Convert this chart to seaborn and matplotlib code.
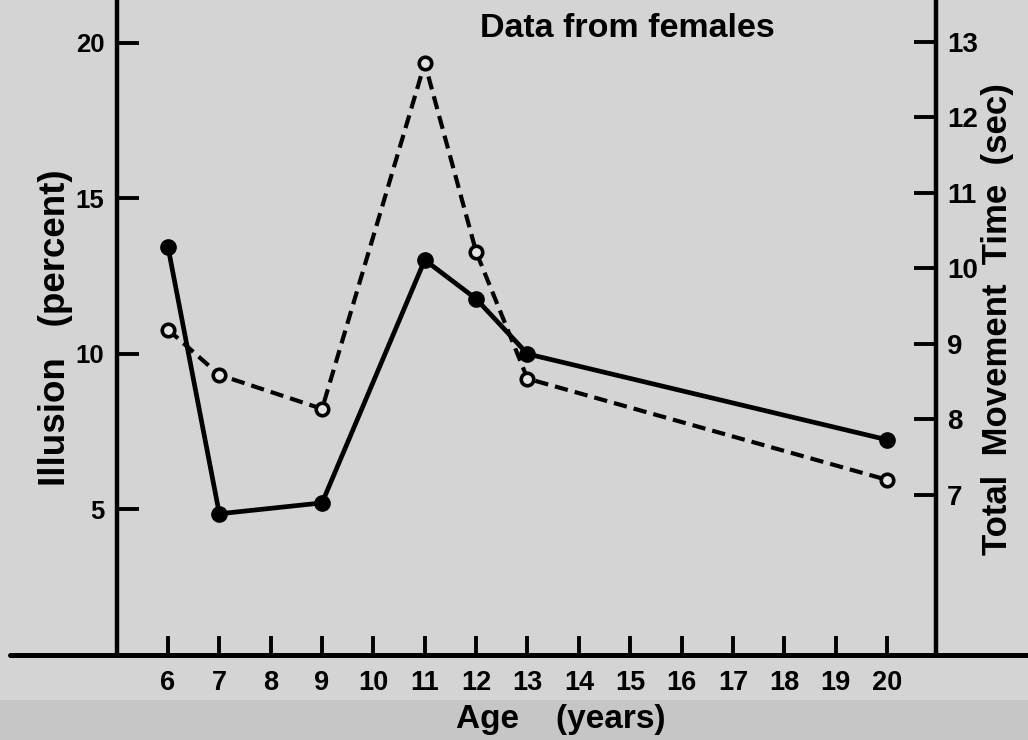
import matplotlib
matplotlib.use('Agg')
import matplotlib.pyplot as plt
import seaborn as sns
from matplotlib.lines import Line2D
from matplotlib.patches import Rectangle

# ---- data ----
ages = [6, 7, 9, 11, 12, 13, 20]
illusion = [13.44, 4.86, 5.21, 13.02, 11.77, 10.0, 7.24]          # left axis (percent)
movement_time = [9.19, 8.59, 8.14, 12.72, 10.22, 8.54, 7.20]      # right axis (sec)
x_ticks = list(range(6, 21))
left_ticks = [5, 10, 15, 20]
right_ticks = [7, 8, 9, 10, 11, 12, 13]

title = "Data from females"
xlabel = "Age    (years)"
left_label = "Illusion   (percent)"
right_label = "Total  Movement  Time  (sec)"

sns.set_theme(style='white')
plt.rcParams['font.family'] = ['Liberation Sans', 'DejaVu Sans']
plt.rcParams['font.weight'] = 'bold'

bg = '#d4d4d4'
fig = plt.figure(figsize=(10.28, 7.40), dpi=100, facecolor=bg)
# slightly darker strip at the bottom of the scanned page
fig.patches.append(Rectangle((0, 0), 1, 0.054, transform=fig.transFigure,
                             facecolor='#c6c6c6', edgecolor='none', zorder=-10))
ax = fig.add_axes([0.1138, 0.1149, 0.7967, 0.8851])
ax.set_facecolor('none')
ax2 = ax.twinx()
ax2.set_facecolor('none')

sns.lineplot(x=ages, y=illusion, ax=ax, color='black', linewidth=3.4,
             marker='o', markersize=11, markerfacecolor='black',
             markeredgecolor='black', markeredgewidth=1)
sns.lineplot(x=ages, y=movement_time, ax=ax2, color='black', linewidth=3.0,
             linestyle=(0, (3.2, 1.7)), marker='o', markersize=9,
             markerfacecolor='#e4e4e4', markeredgecolor='black',
             markeredgewidth=2.6)

ax.set_xlim(5.007, 20.954)
ax.set_ylim(0.32, 21.38)
ax2.set_ylim(4.88, 13.556)

ax.set_xticks(x_ticks)
ax.set_xticklabels([str(t) for t in x_ticks])
ax.set_yticks(left_ticks)
ax.set_yticklabels([str(t) for t in left_ticks])
ax2.set_yticks(right_ticks)
ax2.set_yticklabels([str(t) for t in right_ticks])

for a in (ax, ax2):
    a.grid(False)
    for s in a.spines.values():
        s.set_visible(False)
ax.spines['left'].set_visible(True)
ax.spines['left'].set_linewidth(3.2)
ax.spines['left'].set_color('black')
ax2.spines['right'].set_visible(True)
ax2.spines['right'].set_linewidth(3.2)
ax2.spines['right'].set_color('black')

ax.tick_params(axis='x', direction='in', length=14, width=2.8, pad=11,
               colors='black', bottom=True, top=False)
ax.tick_params(axis='y', direction='in', length=16, width=2.8, pad=9,
               colors='black', left=True, right=False)
ax2.tick_params(axis='y', direction='in', length=16, width=2.8, pad=8,
                colors='black', right=True, left=False)

for lab in ax.get_xticklabels():
    lab.set_fontsize(19.5)
    lab.set_fontweight('heavy')
for lab in ax.get_yticklabels():
    lab.set_fontsize(18.5)
    lab.set_fontweight('heavy')
for lab in ax2.get_yticklabels():
    lab.set_fontsize(20)
    lab.set_fontweight('heavy')

# full-width baseline of the scanned plot
fig.add_artist(Line2D([0.01, 1], [0.1149, 0.1149], transform=fig.transFigure,
                      color='black', linewidth=3.6, solid_capstyle='round'))

ax.set_ylabel(left_label, fontsize=26.5, fontweight='bold', color='black')
ax.yaxis.label.set_ha('center')
ax.yaxis.label.set_va('center')
ax.yaxis.set_label_coords(-0.0745, 0.499)

ax2.set_ylabel(right_label, fontsize=25, fontweight='bold', color='black')
ax2.yaxis.label.set_ha('center')
ax2.yaxis.label.set_va('center')
ax2.yaxis.label.set_rotation(90)
ax2.yaxis.set_label_coords(1.0745, 0.513)

ax.set_xlabel(xlabel, fontsize=24, fontweight='bold', color='black')
ax.xaxis.label.set_va('baseline')
ax.xaxis.set_label_coords(0.542, -0.111)

ax.set_title(title, x=0.6227, y=0.9435, pad=0, fontsize=24.5,
             fontweight='bold', color='black', va='baseline')

fig.savefig('out.png', dpi=100, facecolor=bg)
